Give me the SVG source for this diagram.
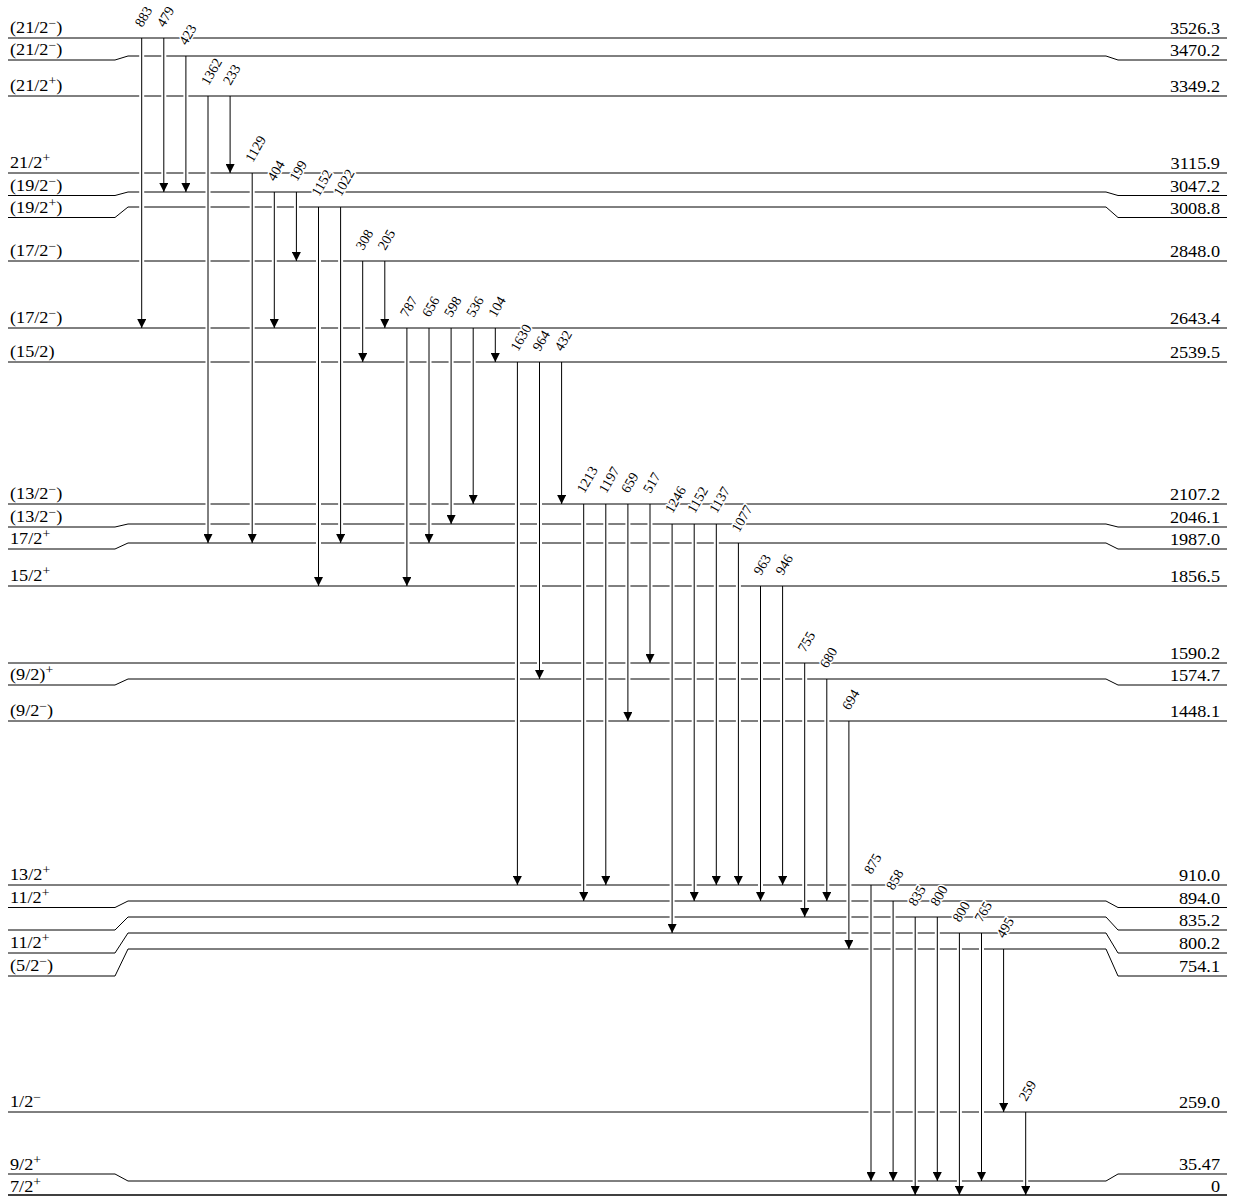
<svg xmlns="http://www.w3.org/2000/svg" width="1237" height="1196" viewBox="0 0 1237 1196">
<style>
.lv{fill:none;stroke:#000;stroke-width:1}
.l0{fill:none;stroke:#000;stroke-width:1.6}
.ko{stroke:#fff;stroke-width:5}
.tr{stroke:#000;stroke-width:1}
.gl{font-family:"Liberation Serif","Times New Roman",serif;font-size:14px;fill:#000;stroke:#fff;stroke-width:3;paint-order:stroke;stroke-linejoin:round}
.sl{font-family:"Liberation Serif","Times New Roman",serif;font-size:16px;fill:#000}
.er{font-family:"Liberation Serif","Times New Roman",serif;font-size:16px;fill:#000;text-anchor:end}
.sup{font-size:12px}
</style>
<defs>
<marker id="ah" viewBox="0 0 10 10" refX="10" refY="5" markerWidth="10" markerHeight="9" orient="auto" markerUnits="userSpaceOnUse">
<path d="M0,0 L10,5 L0,10 z" fill="#000"/>
</marker>
</defs>
<rect width="1237" height="1196" fill="#fff"/>
<g id="levels">
<g id="lev3526"><path class="lv" d="M8,38 H1227"/><text class="sl" transform="translate(10,33) scale(1.14,1)">(21/2<tspan class="sup" dy="-6">−</tspan><tspan dy="6">)</tspan></text><text class="er" transform="translate(1220,34) scale(1.14,1)">3526.3</text></g>
<g id="lev3470"><path class="lv" d="M8,60 H115 L128,56 H1106 L1118,60 H1227"/><text class="sl" transform="translate(10,55) scale(1.14,1)">(21/2<tspan class="sup" dy="-6">−</tspan><tspan dy="6">)</tspan></text><text class="er" transform="translate(1220,56) scale(1.14,1)">3470.2</text></g>
<g id="lev3349"><path class="lv" d="M8,96 H1227"/><text class="sl" transform="translate(10,91) scale(1.14,1)">(21/2<tspan class="sup" dy="-6">+</tspan><tspan dy="6">)</tspan></text><text class="er" transform="translate(1220,92) scale(1.14,1)">3349.2</text></g>
<g id="lev3116"><path class="lv" d="M8,173 H1227"/><text class="sl" transform="translate(10,168) scale(1.14,1)">21/2<tspan class="sup" dy="-6">+</tspan></text><text class="er" transform="translate(1220,169) scale(1.14,1)">3115.9</text></g>
<g id="lev3047"><path class="lv" d="M8,195.5 H115 L128,192 H1106 L1118,195.5 H1227"/><text class="sl" transform="translate(10,190.5) scale(1.14,1)">(19/2<tspan class="sup" dy="-6">−</tspan><tspan dy="6">)</tspan></text><text class="er" transform="translate(1220,191.5) scale(1.14,1)">3047.2</text></g>
<g id="lev3009"><path class="lv" d="M8,217.5 H115 L128,207 H1106 L1118,217.5 H1227"/><text class="sl" transform="translate(10,212.5) scale(1.14,1)">(19/2<tspan class="sup" dy="-6">+</tspan><tspan dy="6">)</tspan></text><text class="er" transform="translate(1220,213.5) scale(1.14,1)">3008.8</text></g>
<g id="lev2848"><path class="lv" d="M8,261 H1227"/><text class="sl" transform="translate(10,256) scale(1.14,1)">(17/2<tspan class="sup" dy="-6">−</tspan><tspan dy="6">)</tspan></text><text class="er" transform="translate(1220,257) scale(1.14,1)">2848.0</text></g>
<g id="lev2643"><path class="lv" d="M8,328 H1227"/><text class="sl" transform="translate(10,323) scale(1.14,1)">(17/2<tspan class="sup" dy="-6">−</tspan><tspan dy="6">)</tspan></text><text class="er" transform="translate(1220,324) scale(1.14,1)">2643.4</text></g>
<g id="lev2540"><path class="lv" d="M8,362 H1227"/><text class="sl" transform="translate(10,357) scale(1.14,1)">(15/2)</text><text class="er" transform="translate(1220,358) scale(1.14,1)">2539.5</text></g>
<g id="lev2107"><path class="lv" d="M8,504 H1227"/><text class="sl" transform="translate(10,499) scale(1.14,1)">(13/2<tspan class="sup" dy="-6">−</tspan><tspan dy="6">)</tspan></text><text class="er" transform="translate(1220,500) scale(1.14,1)">2107.2</text></g>
<g id="lev2046"><path class="lv" d="M8,527 H115 L128,524 H1106 L1118,527 H1227"/><text class="sl" transform="translate(10,522) scale(1.14,1)">(13/2<tspan class="sup" dy="-6">−</tspan><tspan dy="6">)</tspan></text><text class="er" transform="translate(1220,523) scale(1.14,1)">2046.1</text></g>
<g id="lev1987"><path class="lv" d="M8,549 H115 L128,543 H1106 L1118,549 H1227"/><text class="sl" transform="translate(10,544) scale(1.14,1)">17/2<tspan class="sup" dy="-6">+</tspan></text><text class="er" transform="translate(1220,545) scale(1.14,1)">1987.0</text></g>
<g id="lev1857"><path class="lv" d="M8,586 H1227"/><text class="sl" transform="translate(10,581) scale(1.14,1)">15/2<tspan class="sup" dy="-6">+</tspan></text><text class="er" transform="translate(1220,582) scale(1.14,1)">1856.5</text></g>
<g id="lev1590"><path class="lv" d="M8,663 H1227"/><text class="er" transform="translate(1220,659) scale(1.14,1)">1590.2</text></g>
<g id="lev1575"><path class="lv" d="M8,685 H115 L128,679 H1106 L1118,685 H1227"/><text class="sl" transform="translate(10,680) scale(1.14,1)">(9/2)<tspan class="sup" dy="-6">+</tspan></text><text class="er" transform="translate(1220,681) scale(1.14,1)">1574.7</text></g>
<g id="lev1448"><path class="lv" d="M8,721 H1227"/><text class="sl" transform="translate(10,716) scale(1.14,1)">(9/2<tspan class="sup" dy="-6">−</tspan><tspan dy="6">)</tspan></text><text class="er" transform="translate(1220,717) scale(1.14,1)">1448.1</text></g>
<g id="lev910"><path class="lv" d="M8,885 H1227"/><text class="sl" transform="translate(10,880) scale(1.14,1)">13/2<tspan class="sup" dy="-6">+</tspan></text><text class="er" transform="translate(1220,881) scale(1.14,1)">910.0</text></g>
<g id="lev894"><path class="lv" d="M8,907.5 H115 L128,901 H1106 L1118,907.5 H1227"/><text class="sl" transform="translate(10,902.5) scale(1.14,1)">11/2<tspan class="sup" dy="-6">+</tspan></text><text class="er" transform="translate(1220,903.5) scale(1.14,1)">894.0</text></g>
<g id="lev835"><path class="lv" d="M8,930 H115 L128,917 H1106 L1118,930 H1227"/><text class="er" transform="translate(1220,926) scale(1.14,1)">835.2</text></g>
<g id="lev800"><path class="lv" d="M8,953 H115 L128,933 H1106 L1118,953 H1227"/><text class="sl" transform="translate(10,948) scale(1.14,1)">11/2<tspan class="sup" dy="-6">+</tspan></text><text class="er" transform="translate(1220,949) scale(1.14,1)">800.2</text></g>
<g id="lev754"><path class="lv" d="M8,976 H115 L128,949 H1106 L1118,976 H1227"/><text class="sl" transform="translate(10,971) scale(1.14,1)">(5/2<tspan class="sup" dy="-6">−</tspan><tspan dy="6">)</tspan></text><text class="er" transform="translate(1220,972) scale(1.14,1)">754.1</text></g>
<g id="lev259"><path class="lv" d="M8,1112 H1227"/><text class="sl" transform="translate(10,1107) scale(1.14,1)">1/2<tspan class="sup" dy="-6">−</tspan></text><text class="er" transform="translate(1220,1108) scale(1.14,1)">259.0</text></g>
<g id="lev35"><path class="lv" d="M8,1174 H115 L128,1181 H1106 L1118,1174 H1227"/><text class="sl" transform="translate(10,1169.5) scale(1.14,1)">9/2<tspan class="sup" dy="-6">+</tspan></text><text class="er" transform="translate(1220,1170) scale(1.14,1)">35.47</text></g>
<g id="lev0"><path class="l0" d="M8,1195 H1227"/><text class="sl" transform="translate(10,1192) scale(1.14,1)">7/2<tspan class="sup" dy="-6">+</tspan></text><text class="er" transform="translate(1220,1192) scale(1.14,1)">0</text></g>
</g>
<g id="connectors">
<g id="knockouts">
<line class="ko" x1="141.7" y1="41" x2="141.7" y2="317"/>
<line class="ko" x1="163.8" y1="41" x2="163.8" y2="181"/>
<line class="ko" x1="185.9" y1="59" x2="185.9" y2="181"/>
<line class="ko" x1="208.0" y1="99" x2="208.0" y2="532"/>
<line class="ko" x1="230.1" y1="99" x2="230.1" y2="162"/>
<line class="ko" x1="252.2" y1="176" x2="252.2" y2="532"/>
<line class="ko" x1="274.3" y1="195" x2="274.3" y2="317"/>
<line class="ko" x1="296.4" y1="195" x2="296.4" y2="250"/>
<line class="ko" x1="318.5" y1="210" x2="318.5" y2="575"/>
<line class="ko" x1="340.6" y1="210" x2="340.6" y2="532"/>
<line class="ko" x1="362.7" y1="264" x2="362.7" y2="351"/>
<line class="ko" x1="384.8" y1="264" x2="384.8" y2="317"/>
<line class="ko" x1="406.9" y1="331" x2="406.9" y2="575"/>
<line class="ko" x1="429.0" y1="331" x2="429.0" y2="532"/>
<line class="ko" x1="451.1" y1="331" x2="451.1" y2="513"/>
<line class="ko" x1="473.2" y1="331" x2="473.2" y2="493"/>
<line class="ko" x1="495.3" y1="331" x2="495.3" y2="351"/>
<line class="ko" x1="517.4" y1="365" x2="517.4" y2="874"/>
<line class="ko" x1="539.5" y1="365" x2="539.5" y2="668"/>
<line class="ko" x1="561.6" y1="365" x2="561.6" y2="493"/>
<line class="ko" x1="583.7" y1="507" x2="583.7" y2="890"/>
<line class="ko" x1="605.8" y1="507" x2="605.8" y2="874"/>
<line class="ko" x1="627.9" y1="507" x2="627.9" y2="710"/>
<line class="ko" x1="650.0" y1="507" x2="650.0" y2="652"/>
<line class="ko" x1="672.1" y1="527" x2="672.1" y2="922"/>
<line class="ko" x1="694.2" y1="527" x2="694.2" y2="890"/>
<line class="ko" x1="716.3" y1="527" x2="716.3" y2="874"/>
<line class="ko" x1="738.4" y1="546" x2="738.4" y2="874"/>
<line class="ko" x1="760.5" y1="589" x2="760.5" y2="890"/>
<line class="ko" x1="782.6" y1="589" x2="782.6" y2="874"/>
<line class="ko" x1="804.7" y1="666" x2="804.7" y2="906"/>
<line class="ko" x1="826.8" y1="682" x2="826.8" y2="890"/>
<line class="ko" x1="848.9" y1="724" x2="848.9" y2="938"/>
<line class="ko" x1="871.0" y1="888" x2="871.0" y2="1170"/>
<line class="ko" x1="893.1" y1="904" x2="893.1" y2="1170"/>
<line class="ko" x1="915.2" y1="920" x2="915.2" y2="1184"/>
<line class="ko" x1="937.3" y1="920" x2="937.3" y2="1170"/>
<line class="ko" x1="959.4" y1="936" x2="959.4" y2="1184"/>
<line class="ko" x1="981.5" y1="936" x2="981.5" y2="1170"/>
<line class="ko" x1="1003.6" y1="952" x2="1003.6" y2="1101"/>
<line class="ko" x1="1025.7" y1="1115" x2="1025.7" y2="1184"/>
</g>
<g id="t883"><line class="tr" x1="141.7" y1="38" x2="141.7" y2="328" marker-end="url(#ah)"/></g>
<g id="t479"><line class="tr" x1="163.8" y1="38" x2="163.8" y2="192" marker-end="url(#ah)"/></g>
<g id="t423"><line class="tr" x1="185.9" y1="56" x2="185.9" y2="192" marker-end="url(#ah)"/></g>
<g id="t1362"><line class="tr" x1="208.0" y1="96" x2="208.0" y2="543" marker-end="url(#ah)"/></g>
<g id="t233"><line class="tr" x1="230.1" y1="96" x2="230.1" y2="173" marker-end="url(#ah)"/></g>
<g id="t1129"><line class="tr" x1="252.2" y1="173" x2="252.2" y2="543" marker-end="url(#ah)"/></g>
<g id="t404"><line class="tr" x1="274.3" y1="192" x2="274.3" y2="328" marker-end="url(#ah)"/></g>
<g id="t199"><line class="tr" x1="296.4" y1="192" x2="296.4" y2="261" marker-end="url(#ah)"/></g>
<g id="t1152a"><line class="tr" x1="318.5" y1="207" x2="318.5" y2="586" marker-end="url(#ah)"/></g>
<g id="t1022"><line class="tr" x1="340.6" y1="207" x2="340.6" y2="543" marker-end="url(#ah)"/></g>
<g id="t308"><line class="tr" x1="362.7" y1="261" x2="362.7" y2="362" marker-end="url(#ah)"/></g>
<g id="t205"><line class="tr" x1="384.8" y1="261" x2="384.8" y2="328" marker-end="url(#ah)"/></g>
<g id="t787"><line class="tr" x1="406.9" y1="328" x2="406.9" y2="586" marker-end="url(#ah)"/></g>
<g id="t656"><line class="tr" x1="429.0" y1="328" x2="429.0" y2="543" marker-end="url(#ah)"/></g>
<g id="t598"><line class="tr" x1="451.1" y1="328" x2="451.1" y2="524" marker-end="url(#ah)"/></g>
<g id="t536"><line class="tr" x1="473.2" y1="328" x2="473.2" y2="504" marker-end="url(#ah)"/></g>
<g id="t104"><line class="tr" x1="495.3" y1="328" x2="495.3" y2="362" marker-end="url(#ah)"/></g>
<g id="t1630"><line class="tr" x1="517.4" y1="362" x2="517.4" y2="885" marker-end="url(#ah)"/></g>
<g id="t964"><line class="tr" x1="539.5" y1="362" x2="539.5" y2="679" marker-end="url(#ah)"/></g>
<g id="t432"><line class="tr" x1="561.6" y1="362" x2="561.6" y2="504" marker-end="url(#ah)"/></g>
<g id="t1213"><line class="tr" x1="583.7" y1="504" x2="583.7" y2="901" marker-end="url(#ah)"/></g>
<g id="t1197"><line class="tr" x1="605.8" y1="504" x2="605.8" y2="885" marker-end="url(#ah)"/></g>
<g id="t659"><line class="tr" x1="627.9" y1="504" x2="627.9" y2="721" marker-end="url(#ah)"/></g>
<g id="t517"><line class="tr" x1="650.0" y1="504" x2="650.0" y2="663" marker-end="url(#ah)"/></g>
<g id="t1246"><line class="tr" x1="672.1" y1="524" x2="672.1" y2="933" marker-end="url(#ah)"/></g>
<g id="t1152b"><line class="tr" x1="694.2" y1="524" x2="694.2" y2="901" marker-end="url(#ah)"/></g>
<g id="t1137"><line class="tr" x1="716.3" y1="524" x2="716.3" y2="885" marker-end="url(#ah)"/></g>
<g id="t1077"><line class="tr" x1="738.4" y1="543" x2="738.4" y2="885" marker-end="url(#ah)"/></g>
<g id="t963"><line class="tr" x1="760.5" y1="586" x2="760.5" y2="901" marker-end="url(#ah)"/></g>
<g id="t946"><line class="tr" x1="782.6" y1="586" x2="782.6" y2="885" marker-end="url(#ah)"/></g>
<g id="t755"><line class="tr" x1="804.7" y1="663" x2="804.7" y2="917" marker-end="url(#ah)"/></g>
<g id="t680"><line class="tr" x1="826.8" y1="679" x2="826.8" y2="901" marker-end="url(#ah)"/></g>
<g id="t694"><line class="tr" x1="848.9" y1="721" x2="848.9" y2="949" marker-end="url(#ah)"/></g>
<g id="t875"><line class="tr" x1="871.0" y1="885" x2="871.0" y2="1181" marker-end="url(#ah)"/></g>
<g id="t858"><line class="tr" x1="893.1" y1="901" x2="893.1" y2="1181" marker-end="url(#ah)"/></g>
<g id="t835"><line class="tr" x1="915.2" y1="917" x2="915.2" y2="1195" marker-end="url(#ah)"/></g>
<g id="t800a"><line class="tr" x1="937.3" y1="917" x2="937.3" y2="1181" marker-end="url(#ah)"/></g>
<g id="t800b"><line class="tr" x1="959.4" y1="933" x2="959.4" y2="1195" marker-end="url(#ah)"/></g>
<g id="t765"><line class="tr" x1="981.5" y1="933" x2="981.5" y2="1181" marker-end="url(#ah)"/></g>
<g id="t495"><line class="tr" x1="1003.6" y1="949" x2="1003.6" y2="1112" marker-end="url(#ah)"/></g>
<g id="t259"><line class="tr" x1="1025.7" y1="1112" x2="1025.7" y2="1195" marker-end="url(#ah)"/></g>
<g id="gamma-labels">
<text class="gl" transform="translate(142.2,28) rotate(-60)">883</text>
<text class="gl" transform="translate(164.3,28) rotate(-60)">479</text>
<text class="gl" transform="translate(186.4,46) rotate(-60)">423</text>
<text class="gl" transform="translate(208.5,86) rotate(-60)">1362</text>
<text class="gl" transform="translate(230.6,86) rotate(-60)">233</text>
<text class="gl" transform="translate(252.7,163) rotate(-60)">1129</text>
<text class="gl" transform="translate(274.8,182) rotate(-60)">404</text>
<text class="gl" transform="translate(296.9,182) rotate(-60)">199</text>
<text class="gl" transform="translate(319.0,197) rotate(-60)">1152</text>
<text class="gl" transform="translate(341.1,197) rotate(-60)">1022</text>
<text class="gl" transform="translate(363.2,251) rotate(-60)">308</text>
<text class="gl" transform="translate(385.3,251) rotate(-60)">205</text>
<text class="gl" transform="translate(407.4,318) rotate(-60)">787</text>
<text class="gl" transform="translate(429.5,318) rotate(-60)">656</text>
<text class="gl" transform="translate(451.6,318) rotate(-60)">598</text>
<text class="gl" transform="translate(473.7,318) rotate(-60)">536</text>
<text class="gl" transform="translate(495.8,318) rotate(-60)">104</text>
<text class="gl" transform="translate(517.9,352) rotate(-60)">1630</text>
<text class="gl" transform="translate(540.0,352) rotate(-60)">964</text>
<text class="gl" transform="translate(562.1,352) rotate(-60)">432</text>
<text class="gl" transform="translate(584.2,494) rotate(-60)">1213</text>
<text class="gl" transform="translate(606.3,494) rotate(-60)">1197</text>
<text class="gl" transform="translate(628.4,494) rotate(-60)">659</text>
<text class="gl" transform="translate(650.5,494) rotate(-60)">517</text>
<text class="gl" transform="translate(672.6,514) rotate(-60)">1246</text>
<text class="gl" transform="translate(694.7,514) rotate(-60)">1152</text>
<text class="gl" transform="translate(716.8,514) rotate(-60)">1137</text>
<text class="gl" transform="translate(738.9,533) rotate(-60)">1077</text>
<text class="gl" transform="translate(761.0,576) rotate(-60)">963</text>
<text class="gl" transform="translate(783.1,576) rotate(-60)">946</text>
<text class="gl" transform="translate(805.2,653) rotate(-60)">755</text>
<text class="gl" transform="translate(827.3,669) rotate(-60)">680</text>
<text class="gl" transform="translate(849.4,711) rotate(-60)">694</text>
<text class="gl" transform="translate(871.5,875) rotate(-60)">875</text>
<text class="gl" transform="translate(893.6,891) rotate(-60)">858</text>
<text class="gl" transform="translate(915.7,907) rotate(-60)">835</text>
<text class="gl" transform="translate(937.8,907) rotate(-60)">800</text>
<text class="gl" transform="translate(959.9,923) rotate(-60)">800</text>
<text class="gl" transform="translate(982.0,923) rotate(-60)">765</text>
<text class="gl" transform="translate(1004.1,939) rotate(-60)">495</text>
<text class="gl" transform="translate(1026.2,1102) rotate(-60)">259</text>
</g>
</g>
</svg>
